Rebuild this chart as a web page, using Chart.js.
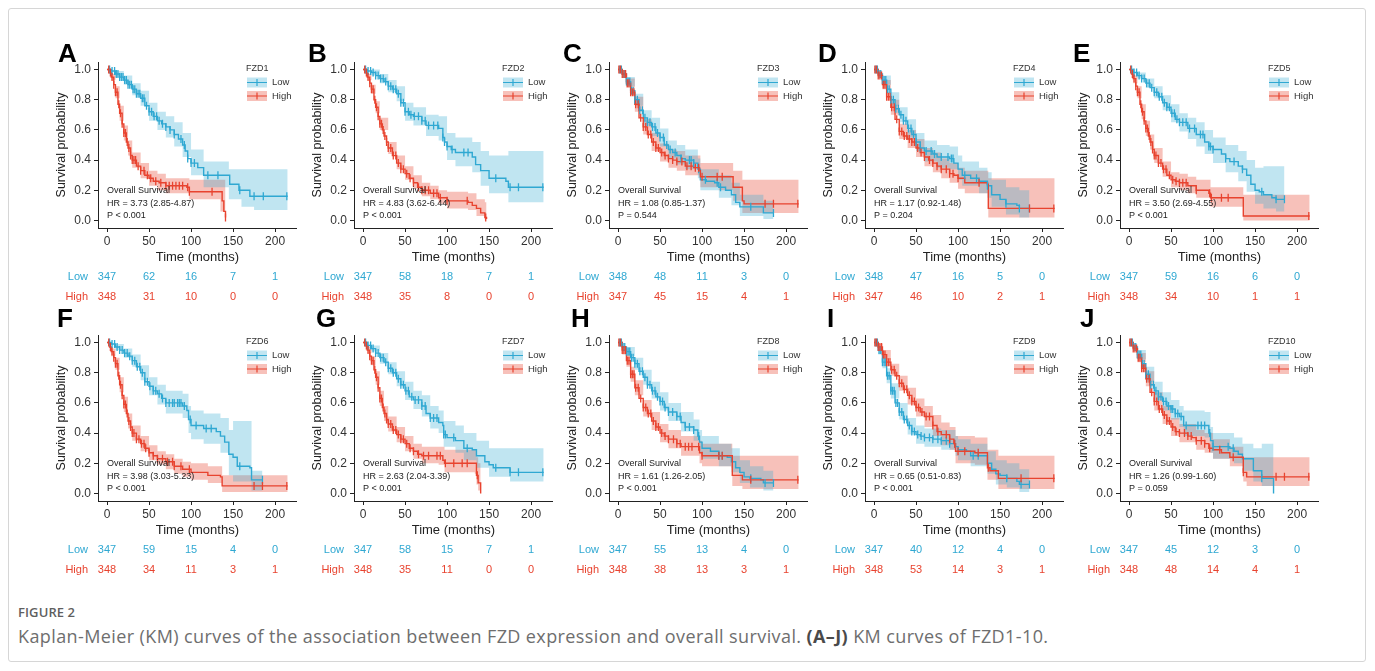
<!DOCTYPE html>
<html><head><meta charset="utf-8">
<script src="https://cdn.jsdelivr.net/npm/chart.js@4"></script>
<style>
html,body{margin:0;padding:0;background:#fff;}
body{width:1375px;height:671px;overflow:hidden;position:relative;font-family:"Liberation Sans",Arial,sans-serif;}
#frame{position:absolute;left:8px;top:8px;width:1358px;height:654px;border:1px solid #d6d6d6;border-radius:3px;box-sizing:border-box;}
canvas{position:absolute;}
#figno{position:absolute;left:18px;top:603px;font-family:"Open Sans",sans-serif;font-size:13px;font-weight:600;color:#5f5f5f;letter-spacing:0.1px;}
#caption{position:absolute;left:18px;top:624px;font-family:"Open Sans",sans-serif;font-size:18px;letter-spacing:0.4px;color:#6e6e6e;white-space:nowrap;}
</style></head>
<body>
<div id="frame"></div>
<div id="figno">FIGURE 2</div>
<div id="caption">Kaplan-Meier (KM) curves of the association between FZD expression and overall survival. <b style="color:#4a4a4a">(A–J)</b> KM curves of FZD1-10.</div>
<script>
// ---------------- DATA ----------------
const genes = ['FZD1','FZD2','FZD3','FZD4','FZD5','FZD6','FZD7','FZD8','FZD9','FZD10'];
const letters = ['A','B','C','D','E','F','G','H','I','J'];
const xTicks = [0,50,100,150,200];
const yTicks = [0,0.2,0.4,0.6,0.8,1.0];
const riskTimes = [0,50,100,150,200];
const riskLow = [[347,62,16,7,1],[347,58,18,7,1],[348,48,11,3,0],[348,47,16,5,0],[347,59,16,6,0],[347,59,15,4,0],[347,58,15,7,1],[347,55,13,4,0],[347,40,12,4,0],[347,45,12,3,0]];
const riskHigh = [[348,31,10,0,0],[348,35,8,0,0],[347,45,15,4,1],[347,46,10,2,1],[348,34,10,1,1],[348,34,11,3,1],[348,35,11,0,0],[348,38,13,3,1],[348,53,14,3,1],[348,48,14,4,1]];
const hrText = ['HR = 3.73 (2.85-4.87)','HR = 4.83 (3.62-6.44)','HR = 1.08 (0.85-1.37)','HR = 1.17 (0.92-1.48)','HR = 3.50 (2.69-4.55)','HR = 3.98 (3.03-5.23)','HR = 2.63 (2.04-3.39)','HR = 1.61 (1.26-2.05)','HR = 0.65 (0.51-0.83)','HR = 1.26 (0.99-1.60)'];
const pText = ['P < 0.001','P < 0.001','P = 0.544','P = 0.204','P < 0.001','P < 0.001','P < 0.001','P < 0.001','P < 0.001','P = 0.059'];

// KM curves [time, survival]; bands [time, lower, upper]; censor times
const fzd1Low = [[0,1],[5,.99],[10,.97],[15,.95],[20,.93],[25,.9],[30,.87],[35,.84],[40,.81],[45,.76],[50,.72],[55,.69],[60,.66],[65,.64],[70,.62],[75,.6],[80,.57],[85,.54],[90,.5],[93,.46],[96,.41],[100,.38],[108,.35],[115,.3],[142,.3],[146,.24],[157,.2],[170,.16],[215,.16]];
const fzd1LowBand = [[0,1,1],[10,.95,.99],[20,.9,.96],[30,.83,.91],[40,.76,.86],[50,.66,.78],[60,.6,.72],[70,.55,.69],[80,.49,.65],[90,.42,.58],[100,.3,.47],[115,.22,.39],[145,.14,.34],[160,.09,.34],[175,.07,.34],[215,.07,.34]];
const fzd1LowCens = [3,6,9,11,13,15,17,19,21,23,25,27,29,31,33,35,37,39,42,44,47,50,53,56,59,62,66,70,75,80,88,92,96,100,104,120,132,158,175,186,214];
const fzd1High = [[0,1],[3,.98],[5,.95],[8,.9],[10,.85],[13,.77],[15,.71],[18,.64],[20,.58],[23,.52],[25,.48],[28,.43],[30,.4],[35,.36],[40,.33],[45,.3],[50,.28],[55,.26],[62,.25],[70,.23],[95,.22],[98,.19],[135,.19],[137,.13],[139,.06],[141,.02]];
const fzd1HighBand = [[0,1,1],[5,.93,.97],[10,.81,.89],[15,.66,.76],[20,.53,.63],[25,.43,.53],[30,.35,.45],[40,.28,.38],[50,.23,.33],[60,.2,.31],[70,.18,.28],[98,.14,.27],[135,.06,.27],[141,0,.27]];
const fzd1HighCens = [2,4,6,8,10,12,14,16,18,20,22,24,26,28,30,32,34,37,40,44,48,52,58,64,70,74,78,82,86,90,96,98,125,141];

const fzd2Low = [[0,1],[5,.99],[10,.98],[15,.96],[20,.94],[25,.92],[30,.89],[35,.87],[40,.84],[45,.78],[50,.72],[55,.7],[60,.69],[70,.66],[75,.63],[90,.61],[95,.55],[97,.52],[100,.49],[105,.47],[110,.45],[130,.42],[134,.37],[140,.33],[150,.28],[170,.26],[173,.22],[215,.22]];
const fzd2LowBand = [[0,1,1],[10,.96,1],[20,.91,.97],[30,.85,.93],[40,.79,.89],[50,.66,.78],[60,.63,.75],[75,.56,.7],[90,.53,.69],[100,.4,.58],[110,.36,.55],[130,.32,.52],[140,.23,.46],[150,.18,.43],[173,.12,.46],[215,.1,.46]];
const fzd2LowCens = [3,6,9,12,15,18,21,24,27,30,33,36,39,42,45,48,50,54,57,61,66,70,74,78,84,89,95,97,100,106,120,125,158,175,185,214];
const fzd2High = [[0,1],[3,.98],[5,.95],[8,.91],[10,.87],[13,.8],[15,.75],[18,.69],[20,.64],[23,.6],[25,.56],[28,.52],[30,.48],[35,.43],[40,.38],[45,.34],[50,.31],[55,.28],[60,.25],[65,.22],[70,.2],[80,.18],[90,.15],[100,.13],[125,.12],[130,.1],[135,.08],[140,.05],[145,.02],[147,.01]];
const fzd2HighBand = [[0,1,1],[5,.93,.97],[10,.84,.9],[15,.71,.79],[20,.6,.68],[30,.44,.52],[40,.34,.43],[50,.27,.36],[60,.21,.3],[70,.16,.25],[80,.14,.23],[90,.11,.2],[100,.08,.19],[125,.07,.18],[135,.03,.14],[145,0,.12],[147,0,.1]];
const fzd2HighCens = [2,4,6,8,10,12,14,16,18,20,22,24,26,28,30,33,36,39,42,45,48,52,56,60,66,70,74,78,84,88,92,100,124,146];

const fzd3Low = [[0,1],[5,.97],[10,.92],[15,.86],[20,.8],[25,.73],[30,.68],[35,.65],[40,.62],[45,.58],[50,.55],[55,.5],[60,.47],[65,.45],[70,.43],[75,.41],[80,.4],[90,.38],[95,.34],[98,.27],[105,.26],[115,.25],[120,.22],[128,.2],[135,.17],[140,.12],[145,.09],[170,.09],[173,.05],[185,.05]];
const fzd3LowBand = [[0,1,1],[10,.89,.95],[20,.76,.84],[30,.63,.73],[40,.56,.68],[50,.49,.61],[60,.41,.53],[70,.37,.5],[80,.34,.47],[95,.28,.41],[98,.2,.34],[120,.15,.3],[135,.1,.25],[145,.03,.17],[173,.01,.13],[185,.01,.13]];
const fzd3LowCens = [2,4,6,8,10,12,14,16,18,20,23,26,29,32,35,38,41,44,47,50,54,58,62,68,75,85,87,90,96,104,118,122,158,185];
const fzd3High = [[0,1],[5,.97],[10,.91],[15,.85],[20,.77],[25,.68],[30,.62],[35,.57],[40,.52],[45,.48],[50,.45],[55,.43],[60,.41],[65,.4],[70,.39],[80,.36],[90,.35],[97,.33],[98,.29],[120,.29],[137,.22],[148,.13],[150,.11],[215,.11]];
const fzd3HighBand = [[0,1,1],[10,.88,.94],[20,.72,.82],[30,.57,.67],[40,.46,.58],[50,.39,.51],[60,.35,.47],[70,.33,.46],[80,.3,.43],[98,.22,.38],[120,.2,.38],[137,.13,.33],[148,.05,.27],[215,.04,.27]];
const fzd3HighCens = [1,3,5,7,9,11,13,15,17,19,21,24,27,30,33,36,39,42,45,48,52,56,60,65,70,76,82,87,92,96,100,118,124,175,185,214];

const fzd4Low = [[0,1],[5,.97],[10,.93],[15,.87],[20,.8],[25,.74],[30,.7],[35,.66],[40,.61],[45,.57],[50,.52],[55,.48],[60,.46],[70,.44],[75,.42],[90,.41],[95,.38],[100,.34],[105,.3],[115,.28],[125,.26],[135,.23],[140,.17],[150,.14],[157,.11],[170,.1],[173,.08],[185,.08]];
const fzd4LowBand = [[0,1,1],[10,.9,.96],[20,.76,.85],[30,.65,.75],[40,.55,.67],[50,.46,.58],[60,.39,.53],[75,.35,.5],[90,.34,.49],[100,.27,.43],[105,.23,.39],[125,.18,.35],[135,.15,.32],[140,.09,.27],[157,.04,.22],[173,.02,.2],[185,.02,.2]];
const fzd4LowCens = [2,4,6,8,10,12,14,16,18,20,23,26,29,32,35,38,41,44,47,50,55,62,68,72,80,88,92,94,108,122,135,157,173,185];
const fzd4High = [[0,1],[5,.96],[10,.9],[15,.82],[20,.75],[25,.67],[30,.59],[35,.56],[40,.54],[45,.52],[50,.48],[55,.45],[60,.42],[65,.4],[70,.38],[75,.36],[80,.34],[90,.31],[95,.3],[100,.28],[108,.25],[135,.24],[136,.08],[215,.08]];
const fzd4HighBand = [[0,1,1],[10,.87,.93],[20,.7,.8],[30,.54,.64],[40,.48,.6],[50,.42,.54],[60,.36,.48],[70,.32,.45],[80,.28,.41],[90,.25,.38],[100,.21,.35],[108,.18,.33],[136,.02,.28],[215,.02,.28]];
const fzd4HighCens = [1,3,5,7,9,11,13,15,17,19,21,24,27,30,33,36,39,42,45,48,52,56,60,66,70,75,80,86,90,94,100,125,185,214];

const fzd5Low = [[0,1],[5,.98],[10,.96],[15,.94],[20,.91],[25,.88],[30,.85],[35,.82],[40,.78],[45,.75],[50,.71],[55,.67],[60,.65],[70,.61],[80,.57],[90,.52],[95,.49],[100,.47],[110,.44],[115,.41],[120,.39],[130,.36],[135,.34],[140,.3],[145,.24],[150,.2],[155,.19],[160,.17],[170,.15],[175,.14],[185,.14]];
const fzd5LowBand = [[0,1,1],[10,.94,.98],[20,.88,.94],[30,.81,.89],[40,.73,.83],[50,.65,.77],[60,.59,.71],[70,.54,.68],[80,.49,.65],[90,.44,.6],[100,.38,.55],[115,.32,.5],[130,.26,.46],[140,.19,.4],[150,.11,.35],[160,.08,.36],[175,.06,.36],[185,.06,.36]];
const fzd5LowCens = [3,6,9,12,15,18,21,24,27,30,33,36,39,42,45,48,51,54,57,60,64,68,72,78,85,88,95,97,100,115,125,135,158,175,185];
const fzd5High = [[0,1],[3,.97],[5,.94],[8,.89],[10,.85],[13,.77],[15,.72],[18,.66],[20,.61],[23,.56],[25,.52],[28,.47],[30,.43],[35,.38],[40,.34],[45,.3],[50,.27],[55,.26],[60,.25],[70,.23],[80,.2],[95,.18],[97,.15],[135,.15],[136,.03],[215,.03]];
const fzd5HighBand = [[0,1,1],[5,.91,.96],[10,.81,.89],[15,.67,.77],[20,.56,.66],[25,.47,.57],[30,.38,.48],[40,.29,.39],[50,.22,.32],[60,.2,.31],[70,.18,.29],[80,.15,.27],[97,.09,.22],[136,0,.17],[215,0,.17]];
const fzd5HighCens = [2,4,6,8,10,12,14,16,18,20,22,24,26,28,30,32,35,38,41,44,48,52,56,60,64,68,80,96,98,110,118,214];

const fzd6Low = [[0,1],[5,.99],[10,.97],[15,.95],[20,.93],[25,.91],[30,.88],[35,.84],[40,.8],[45,.74],[50,.71],[55,.68],[60,.66],[65,.63],[70,.6],[90,.58],[95,.55],[97,.49],[100,.45],[110,.45],[115,.43],[130,.41],[135,.38],[140,.34],[145,.26],[150,.24],[155,.18],[170,.17],[172,.09],[185,.09]];
const fzd6LowBand = [[0,1,1],[10,.95,.99],[20,.9,.96],[30,.84,.92],[40,.75,.85],[50,.65,.77],[60,.59,.72],[70,.53,.68],[90,.5,.66],[97,.4,.58],[100,.36,.55],[115,.33,.53],[135,.27,.5],[145,.12,.42],[150,.08,.48],[172,.02,.15],[185,.02,.15]];
const fzd6LowCens = [3,6,9,12,15,18,21,24,27,30,33,36,39,42,45,48,51,55,58,62,66,70,74,78,80,84,86,88,92,99,106,118,124,158,185];
const fzd6High = [[0,1],[3,.97],[5,.94],[8,.9],[10,.86],[13,.78],[15,.72],[18,.65],[20,.59],[23,.53],[25,.48],[28,.44],[30,.4],[35,.36],[40,.33],[45,.3],[50,.27],[55,.25],[60,.23],[70,.21],[80,.18],[90,.16],[100,.14],[120,.12],[135,.11],[137,.05],[215,.05]];
const fzd6HighBand = [[0,1,1],[5,.91,.96],[10,.82,.9],[15,.67,.77],[20,.54,.64],[25,.43,.53],[30,.35,.45],[40,.28,.38],[50,.22,.32],[60,.19,.28],[70,.16,.26],[80,.13,.23],[90,.11,.21],[100,.09,.2],[120,.07,.18],[137,.01,.12],[215,.01,.12]];
const fzd6HighCens = [2,4,6,8,10,12,14,16,18,20,22,24,26,28,30,32,35,38,41,44,46,50,55,60,66,72,78,80,88,98,175,185,214];

const fzd7Low = [[0,1],[5,.98],[10,.96],[15,.93],[20,.9],[25,.87],[30,.83],[35,.8],[40,.76],[45,.72],[50,.68],[55,.64],[60,.62],[70,.58],[75,.53],[80,.5],[90,.47],[95,.45],[96,.39],[100,.37],[110,.35],[120,.3],[130,.29],[135,.25],[145,.21],[150,.19],[155,.17],[175,.14],[215,.14]];
const fzd7LowBand = [[0,1,1],[10,.94,.98],[20,.86,.93],[30,.79,.87],[40,.71,.81],[50,.62,.74],[60,.56,.68],[70,.51,.65],[80,.43,.58],[90,.4,.55],[96,.31,.48],[110,.27,.45],[120,.22,.4],[135,.17,.35],[150,.11,.3],[175,.08,.3],[215,.08,.3]];
const fzd7LowCens = [3,6,9,12,15,18,21,24,27,30,33,36,39,42,45,48,51,54,58,62,66,70,74,80,84,88,96,98,108,124,158,175,185,214];
const fzd7High = [[0,1],[3,.98],[5,.95],[8,.91],[10,.88],[13,.82],[15,.77],[18,.7],[20,.63],[23,.57],[25,.53],[28,.49],[30,.46],[35,.42],[40,.39],[45,.36],[50,.33],[55,.3],[60,.28],[65,.26],[70,.25],[90,.25],[95,.22],[97,.2],[133,.2],[135,.12],[137,.07],[140,0]];
const fzd7HighBand = [[0,1,1],[5,.93,.97],[10,.85,.91],[15,.72,.81],[20,.58,.68],[25,.48,.58],[30,.41,.51],[40,.34,.44],[50,.28,.38],[60,.23,.33],[70,.2,.31],[90,.19,.31],[97,.14,.29],[133,.13,.29],[135,.06,.24],[137,.02,.2],[140,0,.18]];
const fzd7HighCens = [2,4,6,8,10,12,14,16,18,20,22,24,26,28,30,33,36,39,42,45,48,52,56,60,66,72,78,88,92,98,108,118,124,136];

const fzd8Low = [[0,1],[5,.97],[10,.94],[15,.9],[20,.86],[25,.81],[30,.77],[35,.72],[40,.68],[45,.64],[50,.61],[55,.57],[60,.54],[70,.51],[75,.47],[80,.44],[90,.42],[95,.38],[97,.34],[100,.3],[110,.28],[120,.25],[130,.24],[135,.21],[140,.17],[145,.14],[150,.11],[157,.1],[170,.09],[173,.07],[185,.07]];
const fzd8LowBand = [[0,1,1],[10,.91,.97],[20,.82,.9],[30,.72,.82],[40,.63,.74],[50,.55,.67],[60,.48,.6],[75,.41,.54],[90,.35,.49],[97,.27,.42],[100,.23,.38],[120,.18,.33],[135,.14,.3],[145,.07,.22],[157,.04,.18],[173,.02,.15],[185,.02,.15]];
const fzd8LowCens = [2,4,6,8,10,12,14,16,18,20,23,26,29,32,35,38,41,44,47,50,53,56,60,65,70,74,80,85,90,96,120,124,158,175,185];
const fzd8High = [[0,1],[5,.95],[10,.88],[15,.79],[20,.7],[25,.63],[30,.57],[35,.53],[40,.48],[45,.44],[50,.4],[55,.38],[60,.36],[70,.33],[75,.31],[90,.31],[97,.27],[100,.25],[135,.25],[136,.12],[145,.12],[148,.09],[215,.09]];
const fzd8HighBand = [[0,1,1],[5,.92,.97],[10,.84,.92],[15,.74,.84],[20,.65,.75],[30,.51,.62],[40,.42,.54],[50,.34,.46],[60,.3,.42],[75,.25,.38],[97,.2,.35],[100,.18,.33],[135,.17,.33],[136,.05,.25],[148,.03,.25],[215,.03,.25]];
const fzd8HighCens = [1,3,5,7,9,11,13,15,17,19,21,24,27,30,33,36,39,42,45,48,52,56,60,66,70,74,80,84,88,96,100,120,124,158,214];

const fzd9Low = [[0,1],[5,.95],[10,.87],[15,.78],[20,.68],[25,.6],[30,.54],[35,.49],[40,.45],[45,.41],[50,.39],[55,.38],[60,.37],[70,.36],[80,.35],[90,.33],[97,.31],[100,.29],[110,.28],[115,.25],[125,.25],[135,.2],[140,.16],[145,.13],[150,.12],[158,.1],[170,.08],[173,.06],[185,.06]];
const fzd9LowBand = [[0,1,1],[5,.92,.97],[10,.83,.91],[15,.73,.83],[20,.63,.73],[30,.49,.6],[40,.39,.5],[50,.33,.45],[60,.31,.43],[80,.29,.42],[97,.25,.38],[100,.22,.36],[115,.18,.33],[135,.13,.28],[145,.06,.22],[158,.04,.2],[173,.01,.16],[185,.01,.16]];
const fzd9LowCens = [2,4,6,8,10,12,14,16,18,20,22,24,26,28,30,33,36,39,42,45,48,52,56,60,66,70,76,80,86,90,96,118,124,158,175,185];
const fzd9High = [[0,1],[5,.97],[10,.92],[15,.87],[20,.82],[25,.78],[30,.73],[35,.69],[40,.65],[45,.61],[50,.57],[55,.54],[60,.51],[70,.45],[75,.41],[80,.39],[90,.36],[95,.33],[97,.28],[120,.27],[135,.17],[138,.15],[148,.1],[215,.1]];
const fzd9HighBand = [[0,1,1],[5,.95,.99],[10,.89,.95],[20,.78,.86],[30,.68,.78],[40,.59,.7],[50,.51,.63],[60,.44,.58],[70,.38,.52],[80,.32,.47],[90,.29,.44],[97,.2,.38],[120,.19,.37],[135,.09,.29],[148,.03,.25],[215,.03,.25]];
const fzd9HighCens = [1,3,5,7,9,11,13,15,17,19,21,24,27,30,33,36,39,42,45,48,50,53,57,62,66,70,76,86,90,96,100,108,124,136,175,214];

const fzd10Low = [[0,1],[5,.97],[10,.92],[15,.86],[20,.79],[25,.72],[30,.68],[35,.64],[40,.61],[45,.58],[50,.56],[55,.53],[60,.51],[65,.45],[90,.45],[95,.4],[97,.35],[100,.31],[120,.3],[125,.28],[130,.26],[135,.23],[145,.23],[148,.15],[158,.1],[170,.1],[172,0]];
const fzd10LowBand = [[0,1,1],[10,.89,.95],[20,.74,.84],[30,.62,.74],[40,.55,.67],[50,.49,.62],[60,.44,.58],[65,.38,.55],[90,.37,.54],[97,.27,.44],[100,.23,.4],[125,.2,.37],[135,.15,.33],[148,.08,.3],[158,.05,.33],[172,0,.33]];
const fzd10LowCens = [2,4,6,8,10,12,14,16,18,20,23,26,29,32,35,38,41,44,47,50,52,55,58,62,68,82,86,90,96,100,118,124,158];
const fzd10High = [[0,1],[5,.96],[10,.9],[15,.83],[20,.76],[25,.67],[30,.61],[35,.56],[40,.52],[45,.48],[50,.44],[55,.41],[60,.4],[70,.38],[75,.37],[80,.35],[90,.33],[95,.3],[100,.29],[110,.27],[120,.24],[135,.24],[136,.14],[140,.11],[215,.11]];
const fzd10HighBand = [[0,1,1],[10,.87,.93],[20,.71,.81],[30,.55,.67],[40,.46,.58],[50,.38,.5],[60,.34,.46],[80,.29,.42],[90,.27,.4],[100,.23,.36],[120,.18,.31],[136,.08,.24],[140,.05,.24],[215,.05,.24]];
const fzd10HighCens = [1,3,5,7,9,11,13,15,17,19,21,24,27,30,33,36,39,42,45,48,52,56,60,66,70,74,80,86,90,96,108,124,136,175,185,214];

const lowCurves = [fzd1Low,fzd2Low,fzd3Low,fzd4Low,fzd5Low,fzd6Low,fzd7Low,fzd8Low,fzd9Low,fzd10Low];
const lowBands = [fzd1LowBand,fzd2LowBand,fzd3LowBand,fzd4LowBand,fzd5LowBand,fzd6LowBand,fzd7LowBand,fzd8LowBand,fzd9LowBand,fzd10LowBand];
const lowCens = [fzd1LowCens,fzd2LowCens,fzd3LowCens,fzd4LowCens,fzd5LowCens,fzd6LowCens,fzd7LowCens,fzd8LowCens,fzd9LowCens,fzd10LowCens];
const highCurves = [fzd1High,fzd2High,fzd3High,fzd4High,fzd5High,fzd6High,fzd7High,fzd8High,fzd9High,fzd10High];
const highBands = [fzd1HighBand,fzd2HighBand,fzd3HighBand,fzd4HighBand,fzd5HighBand,fzd6HighBand,fzd7HighBand,fzd8HighBand,fzd9HighBand,fzd10HighBand];
const highCens = [fzd1HighCens,fzd2HighCens,fzd3HighCens,fzd4HighCens,fzd5HighCens,fzd6HighCens,fzd7HighCens,fzd8HighCens,fzd9HighCens,fzd10HighCens];

// ---------------- STYLE / LAYOUT ----------------
const FONT = '"Liberation Sans", Arial, sans-serif';
const BLUE = '#2fa8d2', RED = '#e8432f';
const BLUE_F = 'rgba(47,168,210,0.30)', RED_F = 'rgba(232,67,47,0.33)';
const letterX = [18,12,12,11,11,17,20,20,20,18];
const CW = 262, CH = 272;

function stepAt(curve, t){ let v = curve[0][1]; for (const p of curve){ if (p[0] <= t) v = p[1]; else break; } return v; }

function makePanel(i){
  const row = Math.floor(i/5), col = i%5;
  const cv = document.createElement('canvas');
  cv.width = CW; cv.height = CH;
  cv.style.left = (40 + 255.5*col) + 'px';
  cv.style.top = (35 + 273*row) + 'px';
  document.body.appendChild(cv);

  const bandDs = (band, idx, col) => ({
    data: band.map(b => ({x:b[0], y:b[idx]})), stepped:true, borderWidth:0, borderColor:'rgba(0,0,0,0)',
    pointRadius:0, fill: idx===2 ? '+1' : false, backgroundColor: col
  });
  const lineDs = (curve, col) => ({data: curve.map(p => ({x:p[0], y:p[1]})), stepped:true, borderColor:col, borderWidth:1.4, pointRadius:0, fill:false});
  const censDs = (cens, curve, col) => ({data: cens.map(t => ({x:t, y:stepAt(curve,t)})), showLine:false, pointStyle:'line', pointRotation:90, pointRadius:4, pointBorderWidth:1.3, pointBorderColor:col, borderColor:col, pointBackgroundColor:col});

  const datasets = [
    censDs(highCens[i], highCurves[i], RED),
    censDs(lowCens[i], lowCurves[i], BLUE),
    lineDs(highCurves[i], RED),
    lineDs(lowCurves[i], BLUE),
    bandDs(lowBands[i], 2, BLUE_F),
    bandDs(lowBands[i], 1, BLUE_F),
    bandDs(highBands[i], 2, RED_F),
    bandDs(highBands[i], 1, RED_F)
  ];

  const deco = {
    id:'deco'+i,
    afterDraw(chart){
      const ctx = chart.ctx, xs = chart.scales.x;
      ctx.save();
      ctx.fillStyle = '#000'; ctx.font = 'bold 26px ' + FONT; ctx.textBaseline = 'alphabetic'; ctx.textAlign = 'left';
      ctx.fillText(letters[i], letterX[i], row === 0 ? 27 : 19);
      ctx.font = '9px ' + FONT; ctx.fillStyle = '#333'; ctx.textBaseline = 'middle';
      ctx.fillText(genes[i], 206, 34);
      [[47.5, BLUE, BLUE_F, 'Low'], [61, RED, RED_F, 'High']].forEach(([y, c, f, lab]) => {
        ctx.fillStyle = f; ctx.fillRect(207, y-5, 20, 10);
        ctx.strokeStyle = c; ctx.lineWidth = 1.2;
        ctx.beginPath(); ctx.moveTo(207, y); ctx.lineTo(227, y); ctx.moveTo(217, y-3.5); ctx.lineTo(217, y+3.5); ctx.stroke();
        ctx.fillStyle = '#333'; ctx.font = '9.5px ' + FONT; ctx.fillText(lab, 232, y);
      });
      const ax = xs.getPixelForValue(0);
      ctx.fillStyle = '#222'; ctx.font = '9px ' + FONT;
      ctx.fillText('Overall Survival', ax, 156);
      ctx.fillText(hrText[i], ax, 169);
      ctx.fillText(pText[i], ax, 180.5);
      const ry = row === 0 ? [242, 262] : [241.5, 261.5];
      ctx.font = '11px ' + FONT; ctx.textAlign = 'right';
      ctx.fillStyle = BLUE; ctx.fillText('Low', 48, ry[0]);
      ctx.fillStyle = RED; ctx.fillText('High', 48, ry[1]);
      ctx.textAlign = 'center';
      riskTimes.forEach((t, k) => {
        const px = xs.getPixelForValue(t);
        ctx.fillStyle = BLUE; ctx.fillText(String(riskLow[i][k]), px, ry[0]);
        ctx.fillStyle = RED; ctx.fillText(String(riskHigh[i][k]), px, ry[1]);
      });
      ctx.restore();
    }
  };

  new Chart(cv, {
    type:'line',
    data:{datasets},
    options:{
      responsive:false, animation:false, devicePixelRatio:1,
      layout:{padding:{left:0, right:5, top:27, bottom:37}},
      plugins:{legend:{display:false}, tooltip:{enabled:false}},
      elements:{line:{tension:0}},
      scales:{
        x:{type:'linear', min:-10.75, max:225.75,
          afterBuildTicks: s => { s.ticks = xTicks.map(v => ({value:v})); },
          afterFit: s => { s.height = 42; },
          ticks:{font:{family:FONT, size:12}, color:'#333', padding:2, autoSkip:false, maxRotation:0},
          grid:{display:true, drawOnChartArea:false, drawTicks:true, tickLength:4, color:'#222', lineWidth:1},
          border:{display:true, color:'#222', width:1},
          title:{display:true, text:'Time (months)', font:{family:FONT, size:13}, color:'#222', padding:{top:0, bottom:5}}
        },
        y:{type:'linear', min:-0.05, max:1.05,
          afterBuildTicks: s => { s.ticks = yTicks.map(v => ({value:v})); },
          afterFit: s => { s.width = 58; },
          ticks:{font:{family:FONT, size:12}, color:'#333', padding:3, callback: v => Number(v).toFixed(1)},
          grid:{display:true, drawOnChartArea:false, drawTicks:true, tickLength:4, color:'#222', lineWidth:1},
          border:{display:true, color:'#222', width:1},
          title:{display:true, text:'Survival probability', font:{family:FONT, size:12.5}, color:'#222', padding:{top:14, bottom:0}}
        }
      }
    },
    plugins:[deco]
  });
}
for (let i = 0; i < 10; i++) makePanel(i);
</script>
</body></html>
